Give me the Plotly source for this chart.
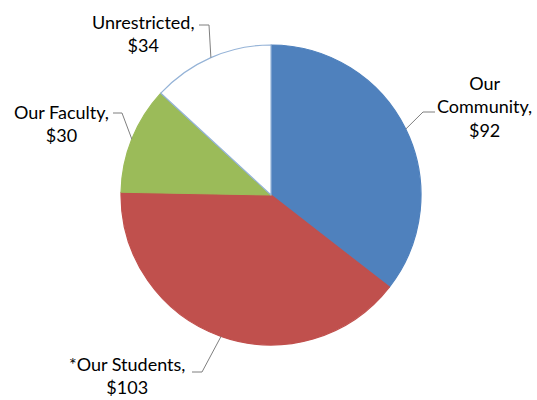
import math
import plotly.graph_objects as go

# ---- data ----
categories = ["Our Community", "*Our Students", "Our Faculty", "Unrestricted"]
values = [92, 103, 30, 34]
label_texts = ["Our<br>Community,<br>$92", "*Our Students,<br>$103",
               "Our Faculty,<br>$30", "Unrestricted,<br>$34"]
colors = ["#4F81BD", "#C0504D", "#9BBB59", "#FFFFFF"]
line_colors = ["#4F81BD", "#C0504D", "#9BBB59", "#95B3D7"]

# ---- layout geometry (pixels) ----
W, H = 537, 400
CX, CY, R = 271, 195, 150
# label block centres and elbow offsets (style/positions)
label_pos = [(484, 106), (127, 375), (61, 123), (143, 33)]
elbows = [((423, 112), (435, 112)),
          ((202, 372), (192, 372)),
          ((122, 113), (113, 113)),
          ((209, 25), (199, 25))]


def px2paper(x, y):
    return x / W, 1 - y / H


fig = go.Figure()
fig.add_trace(go.Pie(
    labels=categories, values=values, sort=False, direction="clockwise",
    rotation=0, textinfo="none", hoverinfo="label+value",
    marker=dict(colors=colors, line=dict(color=line_colors, width=1.2)),
    domain=dict(x=[(CX - R) / W, (CX + R) / W],
                y=[1 - (CY + R) / H, 1 - (CY - R) / H]),
    showlegend=False,
))

# anchor points on pie edge computed from data
total = sum(values)
cum = 0
shapes = []
annotations = []
for i, v in enumerate(values):
    mid = (cum + v / 2) / total * 2 * math.pi
    cum += v
    ax = CX + R * math.sin(mid)
    ay = CY - R * math.cos(mid)
    (ex, ey), (tx, ty) = elbows[i]
    p0 = px2paper(ax, ay)
    p1 = px2paper(ex, ey)
    p2 = px2paper(tx, ty)
    shapes.append(dict(
        type="path", xref="paper", yref="paper",
        path=f"M {p0[0]} {p0[1]} L {p1[0]} {p1[1]} L {p2[0]} {p2[1]}",
        line=dict(color="#7F7F7F", width=1),
    ))
    lx, ly = px2paper(*label_pos[i])
    annotations.append(dict(
        x=lx, y=ly, xref="paper", yref="paper", text=label_texts[i],
        showarrow=False, xanchor="center", yanchor="middle", align="center",
        font=dict(family="Lato", size=18, color="#000000"),
    ))

fig.update_layout(
    width=W, height=H,
    margin=dict(l=0, r=0, t=0, b=0),
    paper_bgcolor="white", plot_bgcolor="white",
    shapes=shapes, annotations=annotations,
)

fig.write_html("out.html")
